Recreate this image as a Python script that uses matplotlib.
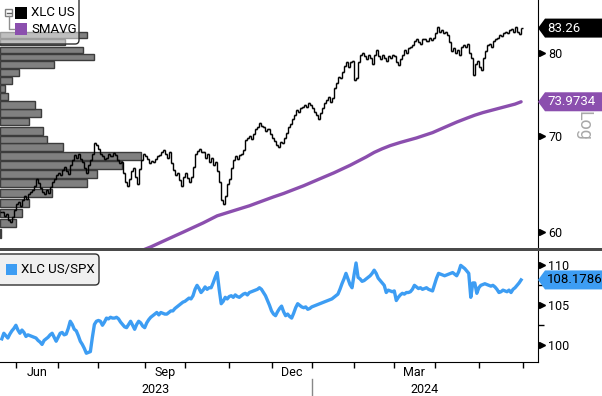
import numpy as np
import pandas as pd
import matplotlib
matplotlib.use("Agg")
import matplotlib.pyplot as plt
from matplotlib.patches import Rectangle, Polygon, FancyBboxPatch
from matplotlib.transforms import IdentityTransform, blended_transform_factory

plt.rcParams['font.family'] = ['Roboto', 'DejaVu Sans']

# Trading calendar (NYSE holidays inside the window).
holidays = ['2023-05-29', '2023-06-19', '2023-07-04', '2023-09-04', '2023-11-23',
            '2023-12-25', '2024-01-01', '2024-01-15', '2024-02-19', '2024-03-29',
            '2024-05-27', '2024-06-19']
calendar = pd.bdate_range('2023-05-22', '2024-06-28', freq='C', holidays=holidays)

# XLC US daily closes, 2023-05-22 .. 2024-05-31.
closes = [
  62.0, 61.6, 61.8, 61.2, 61.0,
  61.5, 62.2, 62.8, 63.0, 62.6,
  63.2, 63.6, 63.3, 63.8, 64.0,
  64.2, 64.6, 65.4, 64.9, 64.4,
  64.0, 63.8, 64.2, 63.9, 64.5,
  65.0, 65.4, 65.8, 66.0, 65.8,
  66.3, 66.6, 66.2, 65.9, 66.8,
  67.4, 67.9, 67.6, 68.0, 67.5,
  67.2, 66.5, 66.0, 66.8, 67.4,
  68.0, 69.2, 69.0, 68.6, 68.0,
  67.8, 67.5, 67.6, 68.0, 67.8,
  68.1, 67.9, 67.4, 67.0, 67.2,
  66.0, 65.0, 64.6, 65.4, 66.2,
  66.5, 65.6, 64.8, 66.4, 67.4,
  68.0, 67.8, 67.5, 67.0, 67.3,
  67.2, 67.5, 67.8, 67.9, 68.2,
  68.5, 68.0, 67.6, 68.2, 67.0,
  66.3, 65.8, 66.0, 65.2, 64.6,
  65.6, 66.0, 65.5, 65.0, 65.6,
  66.6, 68.0, 68.4, 68.6, 68.2,
  68.2, 67.6, 68.0, 67.2, 67.6,
  66.8, 67.2, 66.2, 65.0, 63.2,
  62.8, 63.6, 64.8, 65.4, 66.5,
  67.4, 67.8, 67.5, 67.9, 68.0,
  68.5, 69.6, 69.8, 70.0, 69.7,
  70.2, 70.8, 71.0, 71.5, 71.2,
  71.0, 70.6, 70.8, 70.2, 69.8,
  69.5, 69.0, 68.8, 69.4, 69.2,
  69.8, 70.4, 71.0, 71.4, 72.0,
  72.4, 73.0, 72.8, 73.2, 73.4,
  73.6, 73.4, 73.8, 73.6, 73.2,
  72.8, 72.4, 72.0, 72.6, 73.2,
  73.8, 74.2, 74.6, 74.0, 74.4,
  75.6, 76.2, 77.0, 76.8, 77.6,
  78.4, 78.8, 78.2, 78.9, 79.0,
  76.6, 76.9, 78.8, 79.8, 80.0,
  79.6, 79.2, 79.8, 79.4, 78.6,
  79.8, 80.4, 79.6, 79.2, 79.8,
  79.4, 79.0, 79.6, 79.3, 79.8,
  79.6, 78.8, 78.5, 79.2, 79.8,
  80.4, 80.0, 80.6, 80.8, 81.0,
  81.6, 81.8, 81.4, 81.2, 81.8,
  81.8, 81.6, 81.9, 81.7, 82.0,
  82.6, 83.4, 82.8, 83.0, 82.6,
  82.8, 82.4, 81.4, 80.2, 80.6,
  80.0, 80.4, 79.8, 80.8, 81.0,
  80.8, 81.2, 80.0, 79.4, 77.2,
  78.6, 79.0, 78.2, 77.8, 79.4,
  80.2, 81.0, 81.2, 80.8, 81.6,
  81.8, 82.0, 82.4, 82.2, 82.6,
  82.8, 82.6, 83.0, 83.2, 82.8,
  83.4, 82.8, 82.5, 83.26]

# XLC US / SPX relative strength, same days.
ratio = [
  100.8, 101.5, 101.2, 100.9, 101.4,
  101.8, 102.1, 102.5, 101.9, 101.5,
  101.9, 101.6, 101.1, 101.3, 101.2,
  101.1, 101.0, 100.9, 100.6, 100.4,
  100.1, 100.6, 100.8, 101.0, 101.3,
  101.5, 101.0, 100.5, 101.0, 101.5,
  101.6, 101.3, 101.4, 102.1, 103.0,
  102.6, 102.0, 101.8, 101.2, 100.5,
  100.1, 99.6, 99.0, 99.1, 99.2,
  101.0, 102.6, 103.0, 103.1, 103.0,
  102.5, 102.9, 103.4, 103.3, 103.5,
  103.4, 103.4, 103.5, 103.3, 102.9,
  102.6, 102.3, 102.2, 102.6, 103.0,
  102.5, 102.0, 102.6, 103.0, 102.8,
  102.4, 102.2, 102.8, 103.2, 103.5,
  103.7, 103.9, 104.1, 103.8, 104.1,
  104.0, 103.9, 103.9, 104.1, 104.3,
  104.3, 104.6, 104.8, 105.0, 105.2,
  105.4, 105.5, 105.7, 105.9, 105.8,
  106.2, 107.0, 107.5, 107.1, 106.6,
  106.9, 107.3, 107.0, 107.2, 107.2,
  107.8, 108.5, 109.1, 107.0, 105.2,
  105.5, 106.0, 105.8, 106.1, 106.2,
  106.0, 106.3, 106.1, 106.0, 106.2,
  106.4, 106.5, 106.3, 106.6, 106.7,
  106.8, 106.9, 107.0, 107.2, 107.0,
  106.6, 106.2, 105.6, 105.0, 104.3,
  103.9, 103.7, 104.2, 104.6, 104.9,
  104.2, 103.7, 103.9, 103.6, 103.4,
  104.0, 104.7, 105.2, 105.0, 104.8,
  104.7, 104.8, 104.5, 104.6, 104.8,
  104.9, 105.0, 105.1, 105.2, 105.3,
  105.4, 105.5, 105.6, 105.7, 105.8,
  106.0, 106.2, 106.4, 107.0, 107.7,
  108.3, 109.0, 108.3, 107.6, 107.2,
  108.8, 110.3, 108.5, 108.3, 108.0,
  108.1, 108.3, 108.5, 108.7, 109.0,
  109.4, 109.0, 108.4, 108.1, 107.8,
  107.5, 106.6, 106.9, 106.8, 106.7,
  106.8, 105.6, 106.0, 106.3, 106.5,
  106.4, 106.6, 106.6, 106.7, 107.0,
  107.5, 107.3, 107.1, 107.2, 107.0,
  107.1, 107.2, 107.0, 106.9, 106.8,
  107.6, 108.4, 109.0, 108.9, 108.8,
  108.7, 108.8, 108.9, 109.0, 109.1,
  108.9, 108.7, 109.2, 110.0, 109.8,
  109.6, 109.3, 109.0, 106.0, 107.8,
  107.8, 106.5, 107.2, 107.5, 107.6,
  107.7, 107.6, 107.5, 107.4, 107.5,
  107.3, 107.0, 106.6, 106.7, 106.9,
  106.8, 106.7, 106.9, 106.6, 107.0,
  107.2, 107.5, 107.8, 108.1786]

# Moving average, sampled on trading days (day number from start).
sma_day   = [70, 74, 78, 82, 86, 90, 95, 100, 104, 107, 111, 115, 119, 123, 127,
             131, 135, 140, 145, 150, 155, 160, 165, 169, 173, 177, 181, 185, 189,
             193, 198, 202, 206, 210, 214, 218, 222, 226, 231, 235, 239, 243, 247,
             251, 255, 258]
sma_value = [58.3, 58.6, 58.95, 59.3, 59.65, 60.0, 60.45, 60.9, 61.3, 61.6, 61.85,
             62.1, 62.35, 62.6, 62.9, 63.2, 63.5, 63.85, 64.25, 64.65, 65.1, 65.55,
             66.0, 66.4, 66.8, 67.25, 67.7, 68.2, 68.6, 68.95, 69.3, 69.55, 69.8,
             70.1, 70.4, 70.8, 71.2, 71.6, 72.05, 72.4, 72.7, 72.95, 73.2, 73.45,
             73.7, 73.9734]

# Volume at price.
vap_price  = [59.9, 60.9, 61.9, 62.9, 63.9, 64.9, 65.85, 66.8, 67.8, 68.8, 69.65, 70.6,
              71.65, 72.65, 73.6, 74.6, 75.55, 76.55, 77.5, 78.5, 79.5, 80.4, 81.4, 82.35]
vap_volume = [0.1, 1.6, 2.2, 2.9, 5.2, 8.7, 9.7, 12.2, 14.1, 6.3, 4.7, 4.3,
              2.9, 4.1, 3.5, 0.8, 0.5, 1.2, 1.9, 5.4, 9.4, 8.3, 6.5, 8.7]

last_close = 83.26
last_sma   = 73.9734
last_ratio = 108.1786

price_ticks = [60, 70, 80]
ratio_ticks = [100, 105, 110]
ratio_minor = [102.5, 107.5]
month_labels = {'2023-06': 'Jun', '2023-09': 'Sep', '2023-12': 'Dec', '2024-03': 'Mar'}

purple = '#8b4fae'
blue   = '#3d9df3'

W, H = 602, 396
fig = plt.figure(figsize=(W/100, H/100), dpi=100)
ident = IdentityTransform()

def rect(x0, y0, x1, y1):
  # pixel box measured from the top-left corner -> figure fraction
  return [x0/W, 1 - y1/H, (x1 - x0)/W, (y1 - y0)/H]

ax  = fig.add_axes(rect(0, 0, 538, 248))
axb = fig.add_axes(rect(0, 251, 538, 362))
axh = ax.twiny()
axh.set_zorder(ax.get_zorder() - 1)
ax.patch.set_visible(False)

day    = np.arange(len(closes))
closes = np.array(closes)
opens  = np.r_[closes[0], closes[:-1]]
xlim   = (-0.9, 266.4)

# Month boundaries.
pos = pd.Series(np.arange(len(calendar)), index=calendar)
month_first = pos.groupby(calendar.to_period('M')).first()
month_ticks = month_first.values[1:]
periods = [str(p) for p in month_first.index]

# ---- top panel ----
ax.set_yscale('log')
ax.set_ylim(58.5, 87.1)
ax.set_xlim(*xlim)

axh.barh(vap_price, vap_volume, height=0.85, left=0, color='#808080',
         edgecolor='#3c3c3c', linewidth=1.0)
axh.set_xlim(0, 53.8)
axh.axis('off')
axh.patch.set_visible(True)
axh.patch.set_facecolor('white')

lo = np.minimum(opens, closes)
hi = np.maximum(opens, closes)
ax.vlines(day, lo, hi, color='k', lw=1.0)
ax.hlines(opens, day - 1.0, day, color='k', lw=1.0)
ax.hlines(closes, day, day + 1.0, color='k', lw=1.0)
ax.plot(sma_day, sma_value, color=purple, lw=2.4, solid_capstyle='round')

for s in ['top', 'left', 'bottom']:
  ax.spines[s].set_visible(False)
ax.spines['right'].set_color('k')
ax.set_xticks([])
ax.yaxis.tick_right()
ax.yaxis.set_minor_locator(matplotlib.ticker.NullLocator())
ax.set_yticks(price_ticks)
ax.set_yticklabels([str(v) for v in price_ticks])
ax.tick_params(axis='y', length=0, pad=7.5, labelsize=9)
tr = blended_transform_factory(ax.transAxes, ax.transData)
ax.plot([542/538]*len(price_ticks), price_ticks, ls='none', marker='>', ms=4.5,
        color='k', transform=tr, clip_on=False)

# ---- bottom panel ----
axb.set_xlim(*xlim)
axb.set_ylim(97.9, 111.8)
axb.plot(day, ratio, color=blue, lw=2.4)
axb.spines['top'].set_visible(False)
axb.spines['left'].set_visible(False)
axb.yaxis.tick_right()
axb.set_yticks(ratio_ticks)
axb.set_yticklabels([str(v) for v in ratio_ticks])
axb.set_yticks(ratio_minor, minor=True)
axb.tick_params(axis='y', which='major', length=0, pad=7.5, labelsize=9)
axb.tick_params(axis='y', which='minor', length=4, width=1, direction='out')
trb = blended_transform_factory(axb.transAxes, axb.transData)
axb.plot([542/538]*len(ratio_ticks), ratio_ticks, ls='none', marker='>', ms=4.5,
         color='k', transform=trb, clip_on=False)

axb.set_xticks(month_ticks)
axb.set_xticklabels([])
centers, names = [], []
for i, p in enumerate(periods[:-1]):
  if p in month_labels:
    centers.append((month_first.values[i] + month_first.values[i+1]) / 2)
    names.append(month_labels[p])
axb.set_xticks(centers, minor=True)
axb.set_xticklabels(names, minor=True)
axb.tick_params(axis='x', which='major', length=4, width=1, direction='out')
axb.tick_params(axis='x', which='minor', length=0, pad=3, labelsize=9)

jan = month_first[pd.Period('2024-01', 'M')]
trx = blended_transform_factory(axb.transData, axb.transAxes)
axb.text((xlim[0] + jan)/2, -0.19, '2023', transform=trx, ha='center', va='top', fontsize=9)
axb.text((jan + xlim[1])/2, -0.19, '2024', transform=trx, ha='center', va='top', fontsize=9)
axb.plot([jan - 0.1, jan - 0.1], [-0.15, -0.32], color='#888888', lw=1,
         transform=trx, clip_on=False)

# ---- panel separator ----
fig.add_artist(Rectangle((0, H - 251), W, 3, transform=ident, fc='#4a4a4a', ec='none'))

# ---- last value tags ----
def tag(axis, value, text, fc, tc):
  yc = axis.transData.transform((0, value))[1]
  pts = [(538, yc), (545, yc + 9.5), (W, yc + 9.5), (W, yc - 9.5), (545, yc - 9.5)]
  fig.add_artist(Polygon(pts, closed=True, transform=ident, fc=fc, ec='none'))
  fig.text(547, yc, text, transform=ident, ha='left', va='center', color=tc, fontsize=9.5)

tag(ax, last_close, f"{last_close:.2f}", 'black', 'white')
tag(ax, last_sma, f"{last_sma:.4f}", purple, 'white')
tag(axb, last_ratio, f"{last_ratio:.4f}", blue, 'black')

fig.text(583, H - 111, 'Log', transform=ident, rotation=-90, ha='center', va='top',
         color='#a8a8a8', fontsize=13)

# ---- legends ----
fig.add_artist(FancyBboxPatch((-6, H - 44), 85, 50, boxstyle='round,pad=0,rounding_size=4',
                              transform=ident, fc=(1, 1, 1, 0.5), ec='#303030', lw=1))
fig.add_artist(Rectangle((5, H - 16), 7, 7, transform=ident, fc='white', ec='#808080', lw=1))
fig.add_artist(matplotlib.lines.Line2D([6.5, 10.5], [H - 12.5, H - 12.5], transform=ident,
                                       color='#606060', lw=1))
fig.add_artist(matplotlib.lines.Line2D([8.5, 8.5, 14], [H - 16, H - 29, H - 29], transform=ident,
                                       color='#909090', lw=1))
fig.add_artist(Rectangle((15, H - 19), 12, 12, transform=ident, fc='black', ec='none'))
fig.add_artist(Rectangle((15, H - 35), 12, 12, transform=ident, fc=purple, ec='none'))
fig.text(31, H - 13, 'XLC US', transform=ident, ha='left', va='center', fontsize=9.5)
fig.text(31, H - 29.5, 'SMAVG', transform=ident, ha='left', va='center', fontsize=9.5)

fig.add_artist(FancyBboxPatch((-3, H - 285), 102, 31, boxstyle='round,pad=0,rounding_size=4',
                              transform=ident, fc='#f0f0f0', ec='#303030', lw=1))
fig.add_artist(Rectangle((6, H - 275), 11, 11, transform=ident, fc=blue, ec='none'))
fig.text(21, H - 269.5, 'XLC US/SPX', transform=ident, ha='left', va='center', fontsize=9.5)

fig.savefig('out.png', dpi=100)
